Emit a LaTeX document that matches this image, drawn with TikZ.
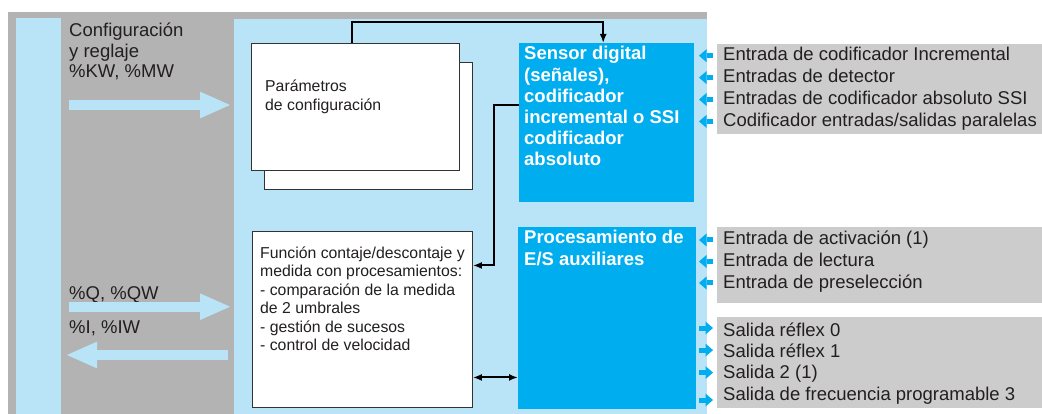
\documentclass[tikz,border=0pt]{standalone}
\usepackage{fontspec}
\setmainfont{Liberation Sans}
\usetikzlibrary{arrows.meta,positioning,calc}
\definecolor{framegray}{HTML}{B3B3B3}
\definecolor{panelblue}{HTML}{B9E4F8}
\definecolor{corecyan}{HTML}{00ADEF}
\definecolor{taggray}{HTML}{CCCCCC}
\definecolor{inkgray}{HTML}{231F20}
\tikzset{
  pbox/.style={rectangle, draw=black!80, fill=white, line width=0.9pt, anchor=north west, inner sep=0pt},
  cbox/.style={rectangle, fill=corecyan, anchor=north west, inner sep=0pt},
  tagbox/.style={rectangle, fill=taggray, anchor=north west, inner sep=0pt},
  txt/.style={anchor=base west, align=left, inner sep=0pt, text=inkgray, font=\fontsize{18.5}{20.5}\selectfont},
  stxt/.style={txt, font=\fontsize{15.8}{18.5}\selectfont},
  btxt/.style={txt, text=white, font=\bfseries\fontsize{18.5}{21.1}\selectfont},
  lbl/.style={anchor=base west, inner sep=0pt, text=inkgray, font=\fontsize{18.5}{21}\selectfont, text height=10pt, text depth=0pt},
  conn/.style={line width=2pt, black, >={Latex[length=9pt,width=7pt]}},
  bigarr/.style={line width=10pt, panelblue, -{Triangle[length=30pt,width=26.7pt,line width=0pt]}},
  smarr/.style={line width=5pt, corecyan, -{Triangle[length=7.5pt,width=13pt,line width=0pt]}},
}
\begin{document}
\begin{tikzpicture}[x=1pt, y=-1pt]
\useasboundingbox (0,0) rectangle (1042,414);

% frame and panels
\fill[framegray] (8,12) rectangle (707,414);
\fill[panelblue] (16,18) rectangle (61,414);
\fill[panelblue] (234,19) rectangle (707,414);

% label backgrounds
\node[tagbox, minimum width=325pt, minimum height=90pt] (tagsens) at (717,44) {};
\node[tagbox, minimum width=325pt, minimum height=76pt] (tagin) at (717,227) {};
\node[tagbox, minimum width=325pt, minimum height=91pt] (tagout) at (717,317) {};

% white boxes (texts placed by their last baseline)
\node[pbox, minimum width=208pt, minimum height=127pt] (parback) at (264,62) {};
\node[pbox, minimum width=208pt, minimum height=127pt] (param) at (251,43) {};
\node[stxt, font=\fontsize{15.8}{19.3}\selectfont] (paramtxt) at (265,111) {Parámetros\\de configuración};
\node[pbox, minimum width=220pt, minimum height=176pt] (func) at (252,231) {};
\node[stxt] (functxt) at (260,350.8) {Función contaje/descontaje y\\medida con procesamientos:\\- comparación de la medida\\de 2 umbrales\\- gestión de sucesos\\- control de velocidad};

% blue boxes
\node[cbox, minimum width=175pt, minimum height=159pt] (sensor) at (519,43) {};
\node[btxt] (sensortxt) at (524,165.5) {Sensor digital\\(señales),\\codificador\\incremental o SSI\\codificador\\absoluto};
\node[cbox, minimum width=178pt, minimum height=182pt] (proc) at (518,227) {};
\node[btxt] (proctxt) at (524,265.1) {Procesamiento de\\E/S auxiliares};

% left side
\node[txt] (cfg) at (69,77.7) {Configuración\\y reglaje\\\%KW, \%MW};
\node[txt] (qout) at (69,299) {\%Q, \%QW};
\node[txt] (iin) at (69,333) {\%I, \%IW};
\coordinate (cfgtail) at (69,105);
\coordinate (cfgtip) at (230,105);
\coordinate (qtail) at (69,306.7);
\coordinate (qtip) at (230,306.7);
\coordinate (itail) at (228,355);
\coordinate (itip) at (67,355);
\draw[bigarr] (cfgtail) -- (cfgtip);
\draw[bigarr] (qtail) -- (qtip);
\draw[bigarr] (itail) -- (itip);

% connectors
\draw[conn, ->] ([xshift=-3pt]param.north) -- ++(0,-21) -| ([xshift=-3.5pt]sensor.north);
\draw[conn, ->] ([yshift=17.5pt]sensor.west) -- ++(-25,0) |- ([yshift=54pt]func.east);
\draw[conn, <->] ([yshift=-58pt]func.east) -- ([yshift=-58pt]func.east -| proc.west);

% right labels
\foreach \t [count=\i] in {Entrada de codificador Incremental, Entradas de detector, Entradas de codificador absoluto SSI, Codificador entradas/salidas paralelas}
  \node[lbl] (sens\i) at (723,{60.7+21.9*(\i-1)}) {\t};
\foreach \t [count=\i] in {Entrada de activación (1), Entrada de lectura, Entrada de preselección}
  \node[lbl] (aux\i) at (723,{245+21.5*(\i-1)}) {\t};
\foreach \t [count=\i] in {Salida réflex 0, Salida réflex 1, Salida 2 (1), Salida de frecuencia programable 3}
  \node[lbl] (out\i) at (723,{336.7+21.1*(\i-1)}) {\t};

% small arrows
\foreach \n in {sens1,sens2,sens3,sens4,aux1,aux2,aux3}
  \draw[smarr] ([xshift=-10pt]\n.west) -- ++(-14,0);
\foreach \n/\s in {out1/3.7, out2/2.7, out3/1.3, out4/-5}
  \draw[smarr] ([xshift=-24pt, yshift=\s pt]\n.west) -- ++(14,0);

\end{tikzpicture}
\end{document}
